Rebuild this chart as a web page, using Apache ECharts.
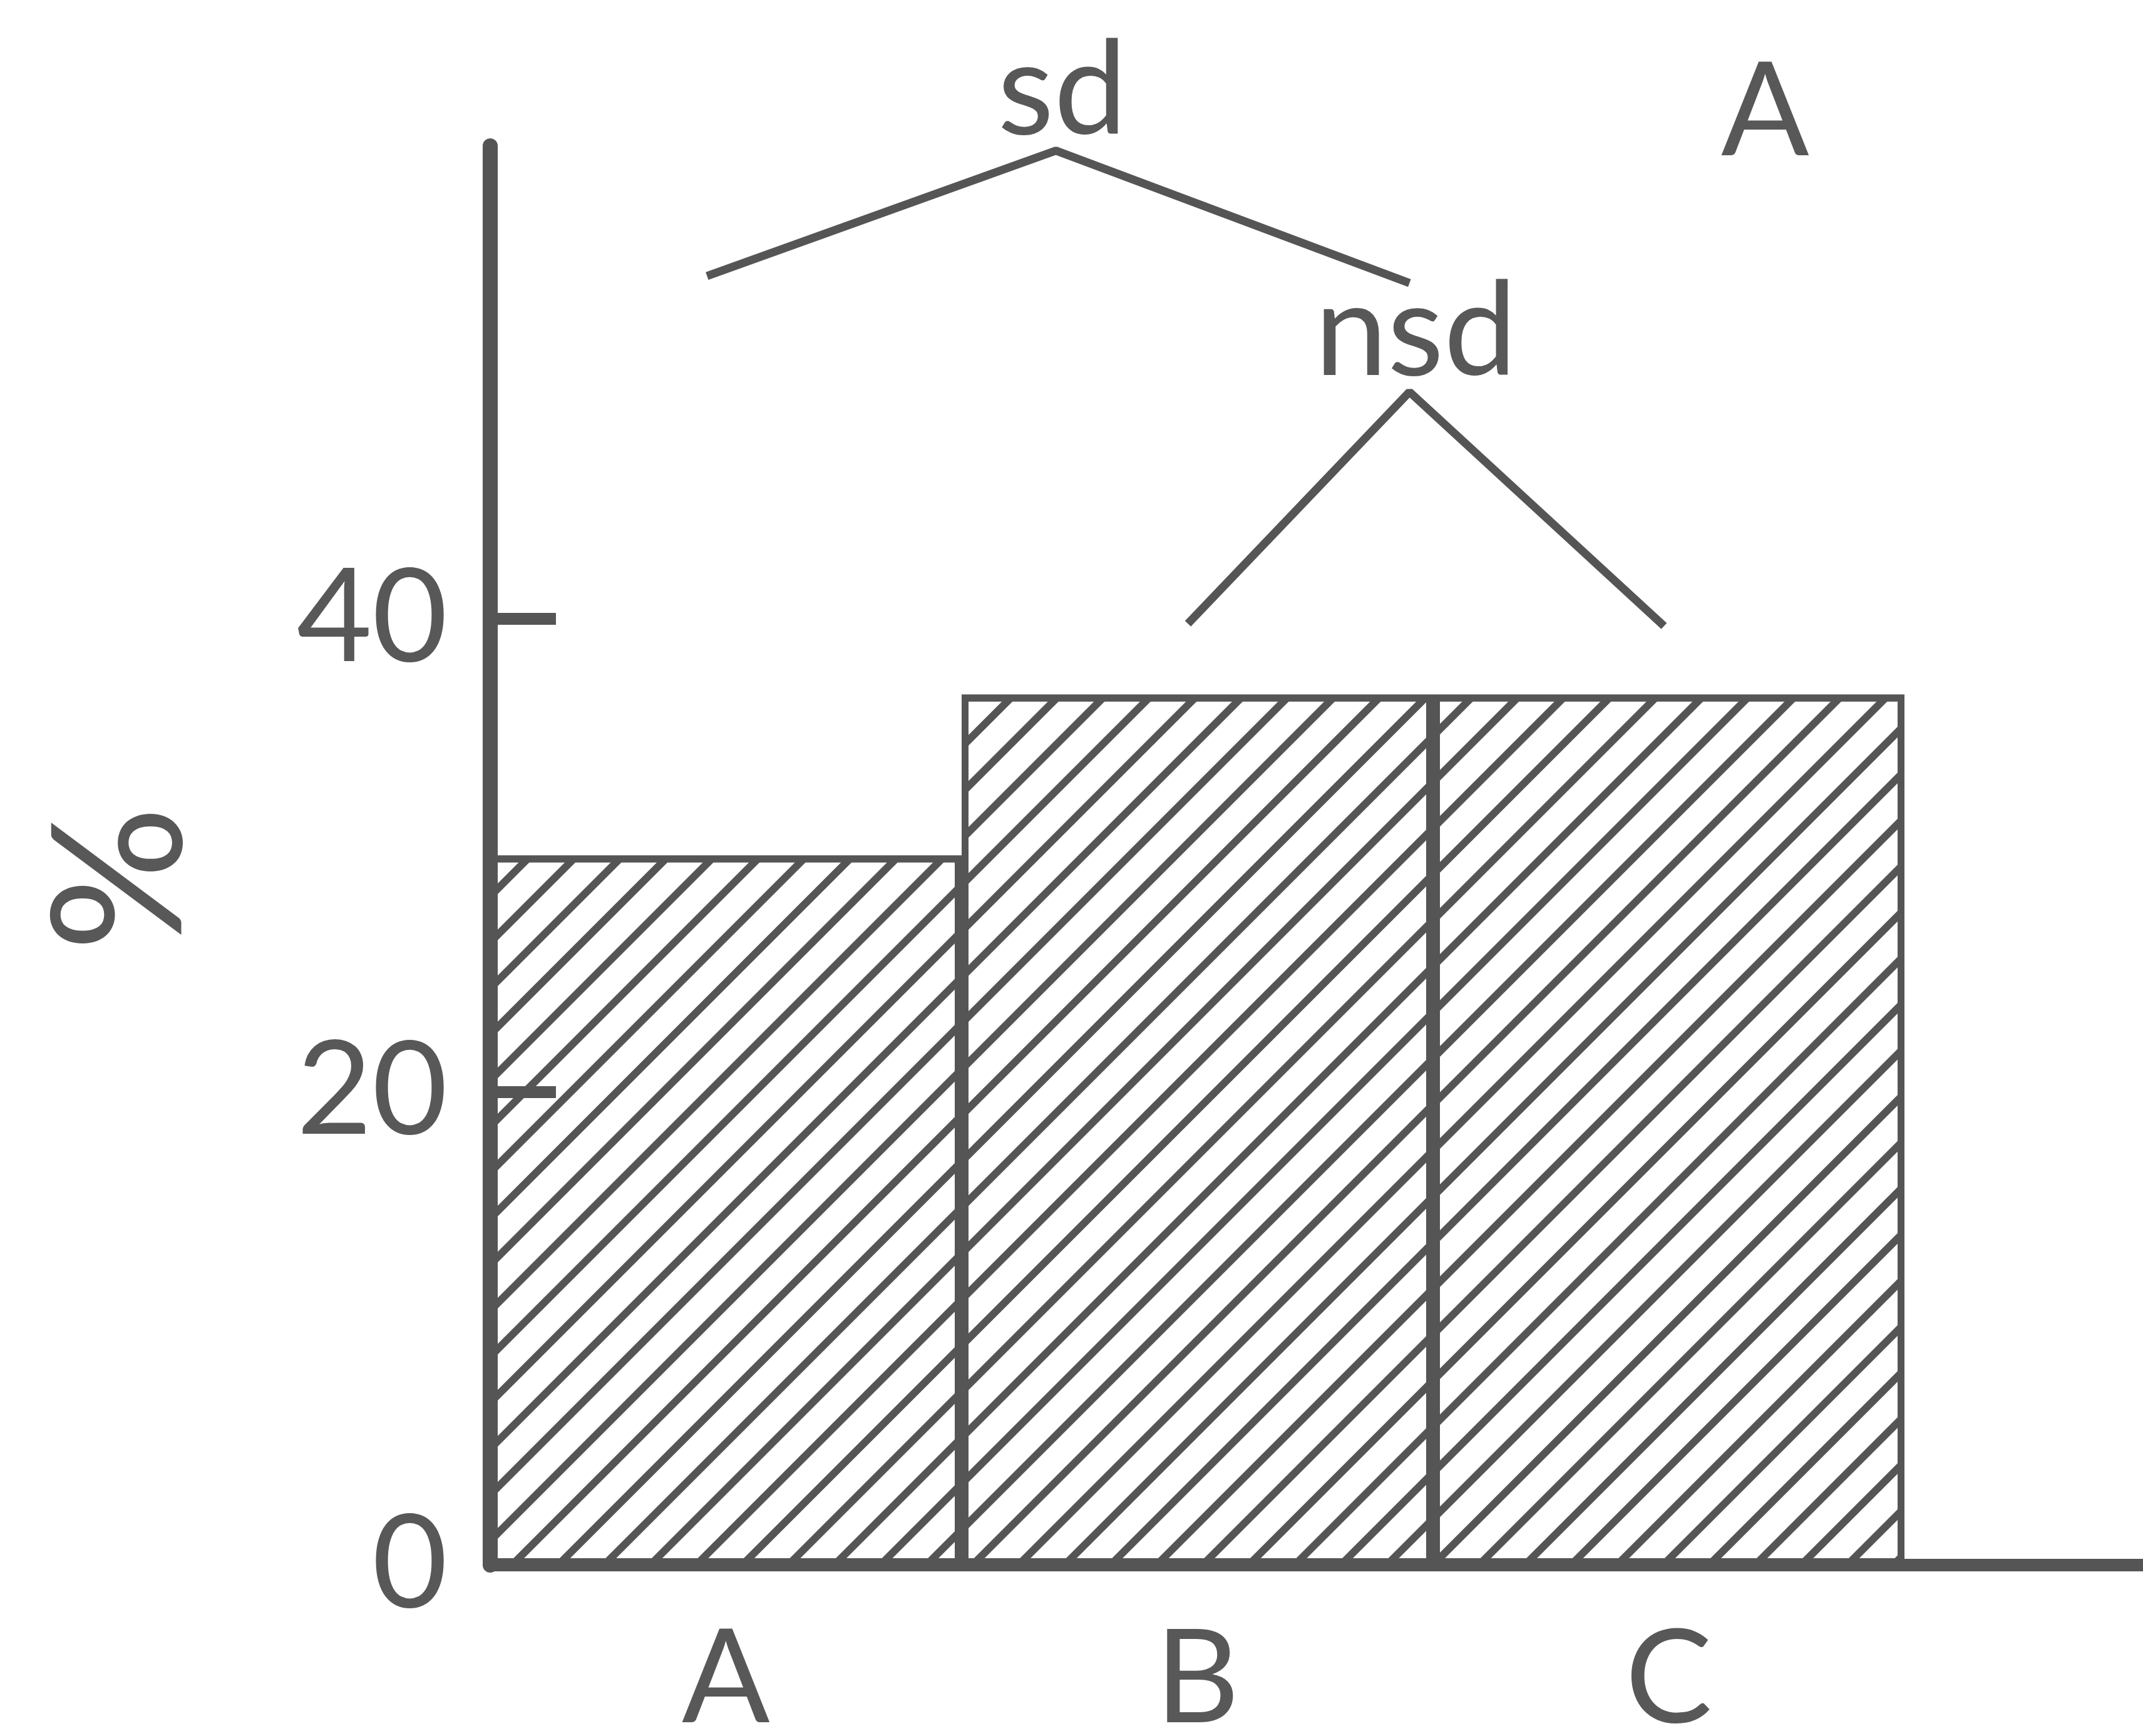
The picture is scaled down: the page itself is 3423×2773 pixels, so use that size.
<!DOCTYPE html>
<html>
<head>
<meta charset="utf-8">
<script src="https://cdn.jsdelivr.net/npm/echarts@6/dist/echarts.min.js"></script>
<style>
  html, body { margin: 0; padding: 0; background: #fff; }
  #chart { width: 3423px; height: 2773px; }
</style>
</head>
<body>
<div id="chart"></div>
<script>
// data
var categories = ['A', 'B', 'C'];
var percentValues = [30, 36.8, 36.8];
var yTickLabels = [0, 20, 40];
var yTickMarks = [20, 40];

// significance tree over the bars: label, bar positions (category index units), heights (%)
var sigNames = ['nsd', 'sd'];
var sigLeftX = [0.98, -0.04];
var sigApexX = [1.45, 0.70];
var sigRightX = [1.99, 1.45];
var sigLeftY = [39.8, 54.5];
var sigApexY = [49.6, 59.8];
var sigRightY = [39.7, 54.2];

var ink = '#555555';
var textInk = '#585858';
var fontFam = 'Lato';

var chart = echarts.init(document.getElementById('chart'));

var series = [{
  name: '%',
  type: 'bar',
  xAxisIndex: 0,
  yAxisIndex: 0,
  data: percentValues,
  barWidth: '100%',
  barCategoryGap: 0,
  itemStyle: {
    color: '#ffffff',
    borderColor: ink,
    borderWidth: 11,
    decal: {
      symbol: 'rect',
      symbolSize: 1,
      dashArrayX: [1, 0],
      dashArrayY: [12, 40],
      rotation: -Math.PI / 4,
      color: ink
    }
  },
  silent: true
}];

for (var i = 0; i < sigNames.length; i++) {
  series.push({
    name: sigNames[i],
    type: 'line',
    xAxisIndex: 1,
    yAxisIndex: 0,
    clip: false,
    symbol: 'circle',
    symbolSize: 0,
    showSymbol: true,
    lineStyle: { color: ink, width: 13 },
    itemStyle: { color: ink },
    label: { show: false },
    data: [
      [sigLeftX[i], sigLeftY[i]],
      {
        value: [sigApexX[i], sigApexY[i]],
        label: {
          show: true,
          position: 'top',
          distance: -10,
          offset: [10, 0],
          formatter: sigNames[i],
          fontFamily: fontFam,
          fontSize: 208,
          color: textInk
        }
      },
      [sigRightX[i], sigRightY[i]]
    ],
    silent: true
  });
}

option = {
  backgroundColor: '#fff',
  animation: false,
  grid: [{
    left: 783,
    right: 381,
    top: 233,
    bottom: 273,
    outerBoundsMode: 'none'
  }, {
    left: 783,
    right: 0,
    top: 233,
    bottom: 273,
    outerBoundsMode: 'none'
  }],
  xAxis: [{
    type: 'category',
    gridIndex: 0,
    data: categories,
    axisLine: { show: false },
    axisTick: { show: false },
    axisLabel: {
      margin: 80,
      fontFamily: fontFam,
      fontSize: 208,
      color: textInk
    }
  }, {
    type: 'value',
    gridIndex: 0,
    min: -0.5,
    max: 2.5,
    show: false
  }, {
    // long baseline running out to the right edge
    type: 'value',
    gridIndex: 1,
    min: 0,
    max: 1,
    axisLine: { show: true, lineStyle: { color: ink, width: 20 } },
    axisTick: { show: false },
    axisLabel: { show: false },
    splitLine: { show: false }
  }],
  yAxis: [{
    type: 'value',
    gridIndex: 0,
    min: 0,
    max: 60,
    interval: 20,
    z: 5,
    name: '%',
    nameLocation: 'middle',
    nameRotate: 90,
    nameGap: 442,
    nameTextStyle: {
      fontFamily: fontFam,
      fontSize: 290,
      color: textInk,
      padding: [0, 74, 0, 0]
    },
    axisLine: { show: true, onZero: false, lineStyle: { color: ink, width: 24 } },
    axisTick: {
      show: true,
      inside: true,
      length: 105,
      customValues: yTickMarks,
      lineStyle: { color: ink, width: 19 }
    },
    axisLabel: {
      margin: 68,
      customValues: yTickLabels,
      fontFamily: fontFam,
      fontSize: 208,
      color: textInk
    },
    splitLine: { show: false }
  }, {
    type: 'value',
    gridIndex: 1,
    min: 0,
    max: 1,
    show: false
  }],
  graphic: [{
    type: 'text',
    left: 2749,
    top: 77,
    style: {
      text: 'A',
      fontFamily: fontFam,
      fontSize: 208,
      fill: textInk
    }
  }],
  series: series
};

chart.setOption(option);
window.addEventListener('resize', function () {
  chart.resize();
});
</script>
</body>
</html>
